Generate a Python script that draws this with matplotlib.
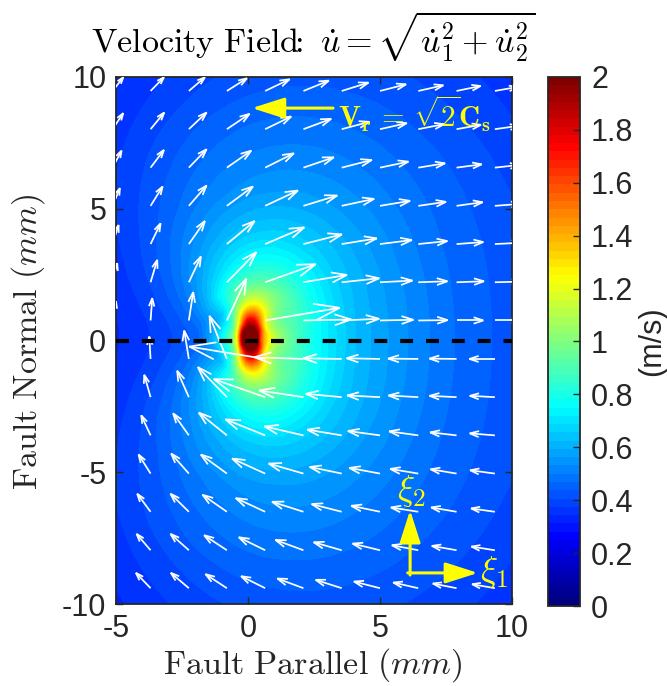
import numpy as np
import matplotlib
matplotlib.use("Agg")
import matplotlib.pyplot as plt
from matplotlib.colors import BoundaryNorm, LinearSegmentedColormap
from matplotlib.cm import ScalarMappable

plt.rcParams['font.family'] = ['Liberation Sans', 'DejaVu Sans']
plt.rcParams['mathtext.fontset'] = 'cm'
plt.rcParams['axes.unicode_minus'] = False

DARK = '#262626'
YELLOW = '#ffff00'

# velocity magnitude, by direction and distance from the peak
# (upper half only, the picture is near symmetric about the fault)
peak_x = 0.1
peak_y = 0.08
field_angle = [0, 30, 60, 90, 120, 150, 180]
field_r = [0.25, 0.35, 0.5, 0.7, 1, 1.4, 2, 2.8, 4, 5.6, 8, 11, 15]
field_v = [
    [2.02, 1.60, 1.38, 1.18, 1.03, .93, .85, .74, .63, .55, .47, .41, .35],
    [2.10, 1.80, 1.50, 1.25, 1.08, .97, .88, .76, .64, .56, .47, .41, .32],
    [2.20, 2.00, 1.75, 1.45, 1.22, 1.05, .92, .79, .66, .56, .48, .41, .33],
    [2.20, 2.10, 1.95, 1.80, 1.50, 1.20, .98, .82, .68, .57, .49, .42, .37],
    [2.20, 2.05, 1.70, 1.35, 1.05, .82, .76, .62, .52, .45, .39, .31, .27],
    [2.15, 1.90, 1.40, 1.00, .78, .62, .54, .48, .42, .37, .32, .27, .24],
    [2.10, 1.75, 1.20, .95, .76, .58, .49, .44, .39, .34, .29, .25, .23],
]
# harmonics round the circle kept for each radius
field_keep = [4, 4, 4, 4, 4, 4, 3, 2, 2, 2, 2, 2, 2]

# quiver tails
arrow_x = [-5.13, -3.69, -2.24, -0.8, 0.65, 2.1, 3.55, 5.0, 6.45, 7.9, 9.35]
arrow_y = [9.47, 8.02, 6.56, 5.11, 3.66, 2.21, 0.76, -0.70, -2.15, -3.6, -5.05, -6.5, -7.96, -9.4]

# quiver components, measured on the 3x crops
arrow_u = [
    [32, 40, 48, 60, 73, 76, 80, 78, 75, 72, 68],
    [32, 41, 53, 68, 78, 83, 83, 80, 77, 73, 72],
    [27, 40, 53, 73, 86, 91, 90, 85, 80, 75, 72],
    [22, 36, 53, 78, 98, 101, 97, 90, 83, 78, 77],
    [18, 30, 48, 83, 117, 115, 105, 95, 87, 80, 80],
    [14, 20, 36, 88, 151, 130, 112, 97, 87, 82, 80],
    [10, 5, 13, 58, 223, 143, 112, 100, 88, 80, 80],
    [-3, -4, -14, -52, -227, -147, -115, -100, -90, -81, -76],
    [-15, -19, -35, -87, -154, -132, -108, -98, -89, -81, -75],
    [-22, -28, -47, -84, -119, -117, -103, -96, -87, -79, -75],
    [-28, -36, -53, -78, -99, -104, -96, -92, -84, -78, -74],
    [-32, -40, -55, -73, -88, -94, -90, -86, -82, -76, -71],
    [-34, -42, -55, -68, -79, -84, -84, -82, -79, -74, -70],
    [-36, -44, -54, -64, -72, -78, -78, -78, -75, -71, -68],
]
arrow_v = [
    [41, 41, 41, 38, 35, 31, 25, 20, 17, 15, 12],
    [48, 50, 50, 46, 38, 31, 22, 18, 15, 13, 10],
    [51, 53, 55, 51, 43, 31, 23, 18, 13, 10, 8],
    [53, 58, 61, 58, 46, 31, 21, 15, 12, 11, 6],
    [57, 62, 69, 69, 50, 29, 17, 12, 9, 6, 4],
    [57, 67, 77, 90, 54, 22, 12, 5, 3, 3, 2],
    [58, 67, 85, 125, 38, 3, 5, 2, 1, 0, 0],
    [60, 67, 85, 129, 37, 5, 2, 2, 1, 1, 0],
    [60, 67, 79, 90, 54, 20, 10, 5, 5, 4, 4],
    [58, 60, 66, 68, 48, 27, 17, 13, 12, 9, 6],
    [55, 57, 60, 57, 45, 30, 20, 17, 14, 13, 10],
    [52, 54, 54, 51, 41, 30, 23, 18, 13, 13, 10],
    [48, 49, 49, 45, 39, 31, 24, 20, 15, 13, 11],
    [45, 46, 46, 42, 36, 29, 25, 20, 17, 14, 12],
]
arrow_scale = 79.0

x_ticks = [-5, 0, 5, 10]
y_ticks = [-10, -5, 0, 5, 10]
cbar_ticks = [0, 0.2, 0.4, 0.6, 0.8, 1, 1.2, 1.4, 1.6, 1.8, 2]
cbar_labels = ['0', '0.2', '0.4', '0.6', '0.8', '1', '1.2', '1.4', '1.6', '1.8', '2']


def px_axes(fig, left, top, right, bottom):
    w, h = fig.canvas.get_width_height()
    return fig.add_axes([left / w, 1 - bottom / h, (right - left) / w, (bottom - top) / h])


def style_box(ax):
    for s in ax.spines.values():
        s.set_color(DARK)
        s.set_linewidth(1.3)


def draw_arrows(ax):
    # open heads, same proportions as matlab quiver
    alpha, beta = 0.33, 0.33
    for j, y0 in enumerate(arrow_y):
        for i, x0 in enumerate(arrow_x):
            u = arrow_u[j][i] / arrow_scale
            v = arrow_v[j][i] / arrow_scale
            tx, ty = x0 + u, y0 + v
            ax.plot([x0, tx], [y0, ty], color='white', lw=1.25, solid_capstyle='butt', zorder=3)
            ax.plot([tx - alpha * (u + beta * v), tx, tx - alpha * (u - beta * v)],
                    [ty - alpha * (v - beta * u), ty, ty - alpha * (v + beta * u)],
                    color='white', lw=1.25, solid_joinstyle='miter', zorder=3)


def field_mesh():
    # smooth the table round each circle with its low harmonics, then along the radius
    half = np.array(field_v)
    full = np.vstack([half[:0:-1], half[:-1]])  # -180 .. 150 deg
    spec = np.fft.rfft(full, axis=0)
    for k, keep in enumerate(field_keep):
        spec[keep + 1:, k] = 0
    n_fine = 360
    ring = np.fft.irfft(spec, n=n_fine, axis=0) * n_fine / full.shape[0]
    ring = np.vstack([ring, ring[:1]])
    angle = np.radians(np.linspace(-180, 180, n_fine + 1))
    log_r = np.linspace(np.log(field_r[0]), np.log(field_r[-1]), 300)
    z = np.array([np.interp(log_r, np.log(field_r), row) for row in ring])
    aa, rr = np.meshgrid(angle, np.exp(log_r), indexing='ij')
    return peak_x + rr * np.cos(aa), peak_y + rr * np.sin(aa), z


fig = plt.figure(figsize=(6.67, 6.86), dpi=100)
ax = px_axes(fig, 116, 77, 512, 604)

levels = np.linspace(0, 2, 65)
# matlab jet, its knots differ a bit from the matplotlib one
cmap = LinearSegmentedColormap.from_list('matlab_jet', [
    (0, (0, 0, 0.5)), (1 / 8, (0, 0, 1)), (3 / 8, (0, 1, 1)),
    (5 / 8, (1, 1, 0)), (7 / 8, (1, 0, 0)), (1, (0.5, 0, 0))], N=64)
norm = BoundaryNorm(levels, 64)
ax.set_facecolor('#800000')  # core of the peak, above the colour range
gx, gy, gz = field_mesh()
cs = ax.contourf(gx, gy, np.clip(gz, 0, 1.999), levels=levels, cmap=cmap, norm=norm)
cs.set_edgecolor('face')
cs.set_linewidth(0.4)

draw_arrows(ax)
ax.plot([-5, 10], [0, 0], color='black', lw=3, dashes=(3.1, 3.1), dash_capstyle='butt', zorder=4)

# annotations
arrow_kw = dict(arrowstyle='-|>,head_length=1.0,head_width=0.32', color=YELLOW, lw=2.2,
                shrinkA=0, shrinkB=0, mutation_scale=20)
ax.annotate('', xy=(0.15, 8.82), xytext=(3.22, 8.82), arrowprops=arrow_kw, zorder=5)
ax.annotate('', xy=(6.14, -6.44), xytext=(6.14, -8.9), arrowprops=arrow_kw, zorder=5)
ax.annotate('', xy=(8.71, -8.82), xytext=(6.05, -8.82), arrowprops=arrow_kw, zorder=5)
ax.text(3.4, 8.6, r'$\mathbf{V_r}\,=\,\sqrt{\mathbf{2}}\mathbf{C_s}$', color=YELLOW, fontsize=21,
        va='center', ha='left', zorder=6)
ax.text(5.65, -5.7, r'$\xi_{\mathbf{2}}$', color=YELLOW, fontsize=26, va='center', ha='left', zorder=5)
ax.text(8.8, -8.8, r'$\xi_{\mathbf{1}}$', color=YELLOW, fontsize=26, va='center', ha='left', zorder=5)

ax.set_xlim(-5, 10)
ax.set_ylim(-10, 10)
ax.set_xticks(x_ticks)
ax.set_yticks(y_ticks)
ax.tick_params(direction='in', top=True, right=True, length=5, width=1, color=DARK,
               labelcolor=DARK, labelsize=22, pad=7)
style_box(ax)

fig.text(313 / 667, 1 - 37 / 686, r'$\mathrm{Velocity\ Field}\!\!:\ \dot{u}=\sqrt{\dot{u}_1^2+\dot{u}_2^2}$',
         fontsize=24.5, color='black', ha='center', va='center')
fig.text(313 / 667, 1 - 665 / 686, r'$\mathrm{Fault\ Parallel\ }(mm)$', fontsize=24.5, color=DARK,
         ha='center', va='center')
fig.text(28 / 667, 1 - 342 / 686, r'$\mathrm{Fault\ Normal\ }(mm)$', fontsize=24.5, color=DARK,
         rotation=90, ha='center', va='center')

# colorbar
cax = px_axes(fig, 548, 77, 580, 606)
cb = fig.colorbar(ScalarMappable(norm=norm, cmap=cmap), cax=cax, drawedges=False, spacing='proportional')
cb.set_ticks(cbar_ticks)
cb.set_ticklabels(cbar_labels)
cax.minorticks_off()
cax.tick_params(direction='in', length=5, width=1, color=DARK, labelcolor=DARK, labelsize=22, pad=8)
cb.outline.set_edgecolor(DARK)
cb.outline.set_linewidth(1.3)
fig.text(652 / 667, 1 - 341 / 686, '(m/s)', fontsize=22, color=DARK, rotation=90, ha='center', va='center')

fig.savefig('out.png', dpi=100)
